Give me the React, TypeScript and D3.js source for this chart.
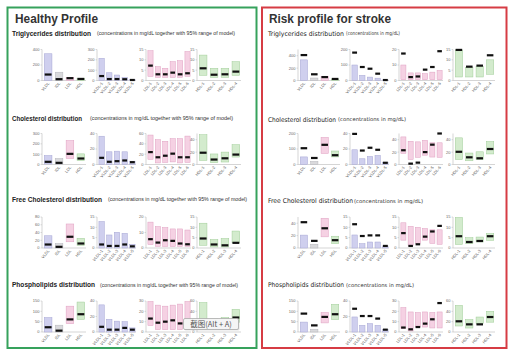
import React from "react";
import * as d3 from "d3";

// ---------- categories ----------
const mainCats = ["VLDL", "IDL", "LDL", "HDL"];
const vldlCats = ["VLDL-1", "VLDL-2", "VLDL-3", "VLDL-4", "VLDL-5"];
const ldlCats = ["LDL-1", "LDL-2", "LDL-3", "LDL-4", "LDL-5", "LDL-6"];
const hdlCats = ["HDL-1", "HDL-2", "HDL-3", "HDL-4"];

// ---------- healthy profile: [low, high, mean] ----------
const hTGmain = [[0, 345, 77], [0, 107, 17], [0, 40, 30], [0, 30, 20]];
const hTGvldl = [[0, 215, 43], [0, 75, 14], [0, 53, 14], [0, 30, 12], [0, 11, 5]];
const hTGldl = [[2, 14.4, 7.2], [1.5, 6.7, 3], [1.5, 5.9, 3], [1.5, 9.1, 3.8], [1.5, 9.6, 3], [2, 14, 3.5]];
const hTGhdl = [[2.5, 12.3, 5.9], [1.5, 5.9, 2.8], [1.5, 5.9, 3], [2.5, 9.1, 4.3]];

const hCHmain = [[5, 87, 26], [0, 58, 16], [58, 232, 103], [39, 103, 58]];
const hCHvldl = [[0, 36.5, 8.6], [0, 16.4, 3.5], [0, 17.2, 4.3], [0, 16.4, 5.2], [0, 4.3, 3]];
const hCHldl = [[10, 57, 24], [3, 48, 14], [4, 45, 17], [5, 50, 21], [3, 50, 14], [4, 55, 14]];
const hCHhdl = [[6.5, 48, 19], [3, 17, 8], [4, 20, 10], [12, 32, 16]];

const hFCmain = [[0, 31.6, 9], [0, 11.6, 3], [16, 62, 29], [7, 25, 11.6]];
const hFCvldl = [[0, 12.8, 1.7], [0, 6.3, 1], [0, 7.6, 1], [0, 7.1, 1.7], [0, 1.8, 0.8]];
const hFCldl = [[2.2, 16.7, 5.7], [1, 13.8, 3.5], [1, 13.2, 5], [1, 12.3, 4.6], [1, 12.3, 2.9], [1, 11.6, 2.4]];
const hFChdl = [[1.3, 12, 4.6], [0.5, 4.1, 1.7], [0.5, 4.6, 1.3], [2.5, 8.2, 2.5]];

const hPLmain = [[0, 70, 23], [0, 33, 6.5], [40, 125, 61], [61, 145, 86]];
const hPLvldl = [[0, 35, 6.7], [0, 16.4, 3], [0, 14, 3], [0, 13.3, 5.3], [0, 5.3, 3]];
const hPLldl = [[6.3, 29.5, 13], [2.3, 26, 9], [2.3, 25, 10], [2.3, 26, 11.3], [2.3, 27, 8.3], [2.3, 29.5, 9]];
const hPLhdl = [[12, 57, 22], [8, 25, 14], [12, 28, 16], [18, 44, 28]];

// ---------- risk profile: [low, high, patient value] ----------
const rTGmain = [[0, 333, 410], [0, 40, 100], [0, 67, 55], [0, 25, 25]];
const rTGvldl = [[0, 100, 180], [0, 33, 87], [0, 22, 76], [0, 15, 44], [0, 4, 3]];
const rTGldl = [[0.5, 10, 17.4], [0.5, 4.9, 2.2], [0.5, 4.9, 2.6], [0.5, 4.4, 7], [0.5, 5.4, 8.7], [0.5, 6.5, 18.9]];
const rTGhdl = [[1.7, 14.8, 14.8], [1.7, 6.4, 6.7], [1.7, 6.9, 7.2], [3, 10, 12.2]];

const rCHmain = [[0, 49, 105], [0, 20, 42], [71, 175, 127], [49, 87, 60]];
const rCHvldl = [[0, 19, 39.5], [0, 7.4, 18], [0, 10.4, 21.6], [0, 11.7, 19], [0, 3, 2.2]];
const rCHldl = [[18, 44.5, 23], [8, 37.5, 1.4], [11.6, 36.5, 3], [15, 39, 20], [12, 35, 32], [11.6, 35, 50]];
const rCHhdl = [[8, 43, 20.5], [6, 18.5, 11.6], [8, 20.5, 10], [17, 37, 25]];

const rFCmain = [[0, 20.8, 41.6], [0, 6, 11.5], [18, 48, 31.8], [7, 19, 12.6]];
const rFCvldl = [[0, 6.3, 11.5], [0, 2.1, 5.8], [0, 2.9, 6.1], [0, 2.9, 6.1], [0, 1, 1]];
const rFCldl = [[3.8, 12.2, 7.2], [1.3, 10.5, 1], [2.2, 10, 1.8], [3.8, 9.4, 5.5], [2.2, 8.8, 8], [1.8, 8.8, 10.7]];
const rFChdl = [[1.7, 14.8, 5.7], [2.1, 5, 2.9], [2.9, 5.3, 3.4], [3.7, 7, 5.7]];

const rPLmain = [[0, 48, 89], [0, 13, 32], [44, 94, 73], [60, 134, 86]];
const rPLvldl = [[0, 19.4, 30], [0, 8.6, 20.6], [0, 10.8, 20.6], [0, 8.6, 17.3], [0, 3.5, 3]];
const rPLldl = [[3.3, 23.6, 4.3], [1, 19.4, 2.6], [4.8, 18.8, 4.8], [4.8, 19.4, 8.1], [3.9, 18.8, 12.3], [3.9, 19.4, 28]];
const rPLhdl = [[11.6, 51.5, 20.7], [7.7, 24, 14.8], [16, 29, 14.8], [19, 40, 29]];

// ---------- axis domains & ticks ----------
const hDomains = [[400, 300, 15, 15], [300, 40, 60, 50], [80, 15, 20, 15], [150, 40, 30, 60]];
const hTicks = [
  [[0, 200, 400], [0, 100, 200, 300], [0, 5, 10, 15], [0, 5, 10, 15]],
  [[0, 100, 200, 300], [0, 20, 40], [0, 20, 40, 60], [0, 20, 40]],
  [[0, 20, 40, 60, 80], [0, 5, 10, 15], [0, 10, 20], [0, 5, 10, 15]],
  [[0, 50, 100, 150], [0, 20, 40], [0, 10, 20, 30], [0, 40, 60]],
];
const rDomains = [[500, 200, 20, 15], [200, 40, 50, 50], [50, 15, 15, 15], [150, 40, 30, 60]];
const rTicks = [
  [[0, 200, 400], [0, 100, 200], [0, 10, 20], [0, 5, 10, 15]],
  [[0, 100, 200], [0, 20, 40], [0, 20, 40], [0, 20, 40]],
  [[0, 20, 40], [0, 5, 10, 15], [0, 5, 10, 15], [0, 5, 10, 15]],
  [[0, 50, 100, 150], [0, 20, 40], [0, 10, 20, 30], [0, 20, 40, 60]],
];

const sectionNames = ["Triglycerides distribution", "Cholesterol distribution", "Free Cholesterol distribution", "Phospholipids distribution"];
const hSub = "(concentrations in mg/dL together with 95% range of model)";
const rSub = "(concentrations in mg/dL)";

const hData = [
  [hTGmain, hTGvldl, hTGldl, hTGhdl],
  [hCHmain, hCHvldl, hCHldl, hCHhdl],
  [hFCmain, hFCvldl, hFCldl, hFChdl],
  [hPLmain, hPLvldl, hPLldl, hPLhdl],
];
const rData = [
  [rTGmain, rTGvldl, rTGldl, rTGhdl],
  [rCHmain, rCHvldl, rCHldl, rCHhdl],
  [rFCmain, rFCvldl, rFCldl, rFChdl],
  [rPLmain, rPLvldl, rPLldl, rPLhdl],
];

// ---------- styles ----------
const PURPLE = { fill: "#cfcfee", stroke: "#a6a6d4" };
const GRAY = { fill: "#d9d9dc", stroke: "#b5b5bb" };
const PINK = { fill: "#f5d1e3", stroke: "#dfa0c1" };
const GREEN = { fill: "#d3ebcd", stroke: "#a0cd98" };
const groupCats = [mainCats, vldlCats, ldlCats, hdlCats];
const groupColors = [[PURPLE, GRAY, PINK, GREEN], [PURPLE], [PINK], [GREEN]];

const rowTops = [49.5, 133.5, 217, 301];
const chartH = 31;
const leftX = [[42, 86], [97, 136], [146, 191], [197, 241]];
const rightX = [[298, 340], [350, 389], [399, 443], [453, 495]];

function MiniChart({ x0, x1, top, cats, rows, dmax, ticks, colors }) {
  const y = d3.scaleLinear().domain([0, dmax]).range([top + chartH, top]);
  const x = d3.scaleBand().domain(cats).range([x0 + 1, x1]).paddingInner(0.3).paddingOuter(0.12);
  const bw = x.bandwidth();
  const bottom = top + chartH;
  return (
    <g>
      <line x1={x0} x2={x0} y1={top} y2={bottom} stroke="#b8b8b8" strokeWidth={0.6} />
      <line x1={x0} x2={x1} y1={bottom} y2={bottom} stroke="#b8b8b8" strokeWidth={0.6} />
      {ticks.map((t) => (
        <g key={t}>
          <line x1={x0 - 1.5} x2={x0} y1={y(t)} y2={y(t)} stroke="#b8b8b8" strokeWidth={0.5} />
          <text x={x0 - 2.5} y={y(t) + 1.4} fontSize={4} fill="#666" textAnchor="end" fontFamily="Liberation Sans, Arial, sans-serif">{t}</text>
        </g>
      ))}
      {cats.map((c, i) => {
        const [lo, hi, m] = rows[i];
        const col = colors[i % colors.length] || colors[0];
        const cx = (x(c) as number) + bw / 2;
        return (
          <g key={c}>
            <rect x={x(c)} y={y(hi)} width={bw} height={Math.max(0.5, y(lo) - y(hi))} fill={col.fill} stroke={col.stroke} strokeWidth={0.5} />
            <rect x={(x(c) as number) + bw * 0.05} y={y(m) - 1.1} width={bw * 0.9} height={2.2} fill="#111" />
            <text transform={`translate(${cx + 1.5},${bottom + 3}) rotate(-50)`} fontSize={4} fill="#555" textAnchor="end" fontFamily="Liberation Sans, Arial, sans-serif">{c}</text>
          </g>
        );
      })}
    </g>
  );
}

function Panel({ xs, data, domains, tickSets }) {
  return (
    <g>
      {data.map((row, r) =>
        row.map((rows, g) => (
          <MiniChart
            key={`${r}-${g}`}
            x0={xs[g][0]}
            x1={xs[g][1]}
            top={rowTops[r]}
            cats={groupCats[g]}
            rows={rows}
            dmax={domains[r][g]}
            ticks={tickSets[r][g]}
            colors={groupColors[g]}
          />
        ))
      )}
    </g>
  );
}

const hHeadY = [35.5, 120.5, 201.5, 287];
const hHeadW = [79, 70, 90, 83];
const hSubX = [97, 90, 108, 100];
const hSubW = [138, 143, 139, 138];
const rHeadY = [35.5, 121.5, 203, 287];
const rHeadW = [76, 68, 85, 76];
const rSubX = [346, 338, 354, 346];
const rSubW = [54, 68, 69, 68];

export default function App() {
  return (
    <svg width={513} height={355} style={{ position: "absolute", left: 0, top: 0, background: "#fff" }}>
      <rect x={0} y={0} width={513} height={355} fill="#fff" />
      <rect x={7.5} y={7.5} width={249} height={340.5} fill="none" stroke="#36a25c" strokeWidth={2} />
      <rect x={262} y={7.5} width={244.5} height={340.5} fill="none" stroke="#d63c44" strokeWidth={2} />

      <text x={15} y={22.5} fontSize={12.5} fontWeight="bold" fill="#333" textLength={83} lengthAdjust="spacingAndGlyphs" fontFamily="Liberation Sans, Arial, sans-serif">Healthy Profile</text>
      <text x={269} y={22.5} fontSize={12.5} fontWeight="bold" fill="#333" textLength={122} lengthAdjust="spacingAndGlyphs" fontFamily="Liberation Sans, Arial, sans-serif">Risk profile for stroke</text>

      {sectionNames.map((s, i) => (
        <g key={s}>
          <text x={12} y={hHeadY[i]} fontSize={6.5} fontWeight="bold" fill="#222" textLength={hHeadW[i]} lengthAdjust="spacingAndGlyphs" fontFamily="Liberation Sans, Arial, sans-serif">{s}</text>
          <text x={hSubX[i]} y={hHeadY[i] - 0.3} fontSize={4.6} fill="#333" textLength={hSubW[i]} lengthAdjust="spacingAndGlyphs" fontFamily="Liberation Sans, Arial, sans-serif">{hSub}</text>
          <text x={268} y={rHeadY[i]} fontSize={6.5} fill="#222" fontWeight={500} textLength={rHeadW[i]} lengthAdjust="spacingAndGlyphs" fontFamily="DejaVu Sans, sans-serif">{s}</text>
          <text x={rSubX[i]} y={rHeadY[i] - 0.2} fontSize={5.2} fill="#333" textLength={rSubW[i]} lengthAdjust="spacingAndGlyphs" fontFamily="DejaVu Sans, sans-serif">{rSub}</text>
        </g>
      ))}

      <Panel xs={leftX} data={hData} domains={hDomains} tickSets={hTicks} />
      <Panel xs={rightX} data={rData} domains={rDomains} tickSets={rTicks} />

      <g>
        <rect x={184.5} y={319.5} width={55} height={11} rx={1.5} fill="#c8c8c8" opacity={0.5} />
        <rect x={183.5} y={318.5} width={55} height={11} rx={1.5} fill="#f5f5f5" stroke="#a0a0a0" strokeWidth={0.7} />
        <text x={211} y={327} fontSize={7.5} fill="#555" textAnchor="middle" fontFamily="Noto Sans CJK SC, sans-serif">截图(Alt + A)</text>
      </g>
    </svg>
  );
}
